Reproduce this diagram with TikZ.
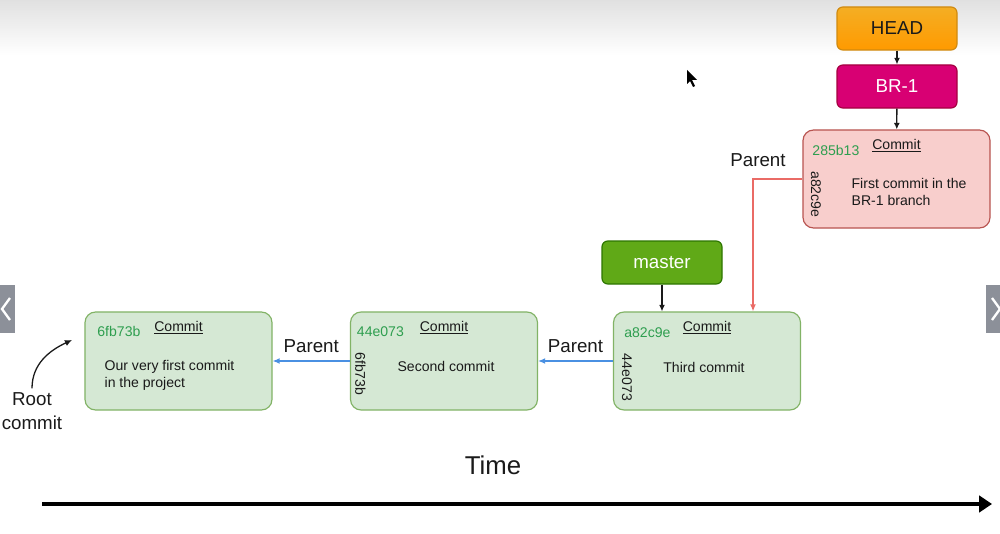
\documentclass[tikz,border=0pt]{standalone}
\usepackage{fontspec}
\setmainfont{Liberation Sans}
\usetikzlibrary{arrows.meta, calc, positioning}
\definecolor{commitfill}{HTML}{D5E8D4}
\definecolor{commitline}{HTML}{82B366}
\definecolor{brfill}{HTML}{F8CECC}
\definecolor{brline}{HTML}{B85450}
\definecolor{hashgreen}{HTML}{2E9E4F}
\definecolor{parentblue}{HTML}{4A90E2}
\definecolor{parentred}{HTML}{EA6B66}
\definecolor{masterfill}{HTML}{60A917}
\definecolor{masterline}{HTML}{2D7600}
\definecolor{branchfill}{HTML}{D80073}
\definecolor{branchline}{HTML}{A50040}
\definecolor{headtop}{HTML}{F4AE24}
\definecolor{headbot}{HTML}{FF9A00}
\definecolor{headline}{HTML}{D08A10}
\definecolor{textdark}{HTML}{1A1A1A}
\definecolor{navgray}{HTML}{8C9099}
\tikzset{
    commit/.style={shape=rectangle, draw=commitline, fill=commitfill, rounded corners=9pt,
        minimum width=5.61cm, minimum height=2.94cm, line width=1pt},
    branchcommit/.style={commit, draw=brline, fill=brfill},
    refbox/.style={shape=rectangle, rounded corners=5pt, minimum width=3.6cm,
        minimum height=1.29cm, line width=1pt, font=\fontsize{16}{19}\selectfont},
    hash/.style={text=hashgreen, inner sep=0pt, font=\fontsize{12}{14}\selectfont},
    commitword/.style={text=textdark, inner sep=0pt, font=\fontsize{12}{14}\selectfont},
    body/.style={text=textdark, inner sep=0pt, align=left, font=\fontsize{12}{14.5}\selectfont},
    parentof/.style={-{Latex[length=6pt,width=5pt]}, line width=1.1pt},
    points/.style={-{Latex[length=5.5pt,width=5pt]}, line width=1.1pt, textdark},
    biglabel/.style={text=textdark, font=\fontsize{16}{20.5}\selectfont},
}

\begin{document}
\begin{tikzpicture}[x=0.03cm, y=-0.03cm]
    \useasboundingbox (0,0) rectangle (1000,534);
    \fill[white] (0,0) rectangle (1000,534);
    \shade[top color=black!12, bottom color=white] (0,0) rectangle (1000,55);

    % side buttons of the player
    \fill[navgray] (0,285) rectangle (15,333);
    \draw[white, line width=2pt] (10,298) -- (2,309) -- (10,320);
    \fill[navgray] (986,285) rectangle (1000,333);
    \draw[white, line width=2pt] (992,298) -- (1000,309) -- (992,320);

    % pointer
    \fill[black] (687,70) -- (687,84) -- (690,81) -- (693,87) -- (695,86) -- (692,80) -- (697,80) -- cycle;

    % commits
    \node[commit] (c1) at (178.5,361) {};
    \node[commit] (c2) at (444,361) {};
    \node[commit] (c3) at (707,361) {};
    \node[branchcommit] (c4) at (896.5,179) {};

    \node[hash] at ($(c1.north west)+(34.5,20)$) {6fb73b};
    \node[commitword] at ($(c1.north)+(0,16)$) {\underline{Commit}};
    \node[body, anchor=west] at ($(c1.west)+(20,14)$) {Our very first commit\\in the project};

    \node[hash] at ($(c2.north west)+(30.5,20)$) {44e073};
    \node[commitword] at ($(c2.north)+(0,16)$) {\underline{Commit}};
    \node[commitword, rotate=-90] at ($(c2.north west)+(10.5,62.5)$) {6fb73b};
    \node[body] at ($(c2.center)+(2,5)$) {Second commit};

    \node[hash] at ($(c3.north west)+(34.5,21)$) {a82c9e};
    \node[commitword] at ($(c3.north)+(0,16)$) {\underline{Commit}};
    \node[commitword, rotate=-90] at ($(c3.north west)+(14,66)$) {44e073};
    \node[body] at ($(c3.center)+(-3,6)$) {Third commit};

    \node[hash] at ($(c4.north west)+(33.5,21)$) {285b13};
    \node[commitword] at ($(c4.north)+(0,16)$) {\underline{Commit}};
    \node[commitword, rotate=-90] at ($(c4.north west)+(13.5,65)$) {a82c9e};
    \node[body, anchor=west] at ($(c4.west)+(49,13)$) {First commit in the\\BR-1 branch};

    % references
    \node[refbox, fill=masterfill, draw=masterline, text=white] (master) at (662,262.5) {master};
    \node[refbox, top color=headtop, bottom color=headbot, draw=headline, text=textdark] (head) at (897,28.5) {HEAD};
    \node[refbox, fill=branchfill, draw=branchline, text=white] (br) at (897,86.5) {BR-1};

    \draw[points] (head) -- (br);
    \draw[points] (br) -- (c4);
    \draw[points] (master.south) -- (master.south |- c3.north);

    % parents
    \draw[parentof, parentblue] (c2.west) -- node[biglabel, above=3pt] {Parent} (c1.east);
    \draw[parentof, parentblue] (c3.west) -- node[biglabel, above=3pt] {Parent} (c2.east);
    \draw[parentof, parentred] (c4.west) -| node[biglabel, pos=0.5, above=7pt, xshift=0.15cm] {Parent} ([xshift=1.38cm]c3.north);

    % root commit
    \node[biglabel, align=center] (root) at (32,411) {Root\\commit};
    \coordinate (rootend) at (72,340);
    \draw[-{Latex[length=6pt,width=5.5pt]}, line width=1.1pt, textdark] (root.north) to[out=90, in=205] (rootend);

    % time axis
    \node[text=textdark, font=\fontsize{22}{26}\selectfont] (time) at (493,465) {Time};
    \coordinate (t0) at (42,504);
    \coordinate (t1) at (992,504);
    \draw[line width=3pt, -{Triangle[length=11pt,width=14pt]}] (t0) -- (t1);
\end{tikzpicture}
\end{document}
